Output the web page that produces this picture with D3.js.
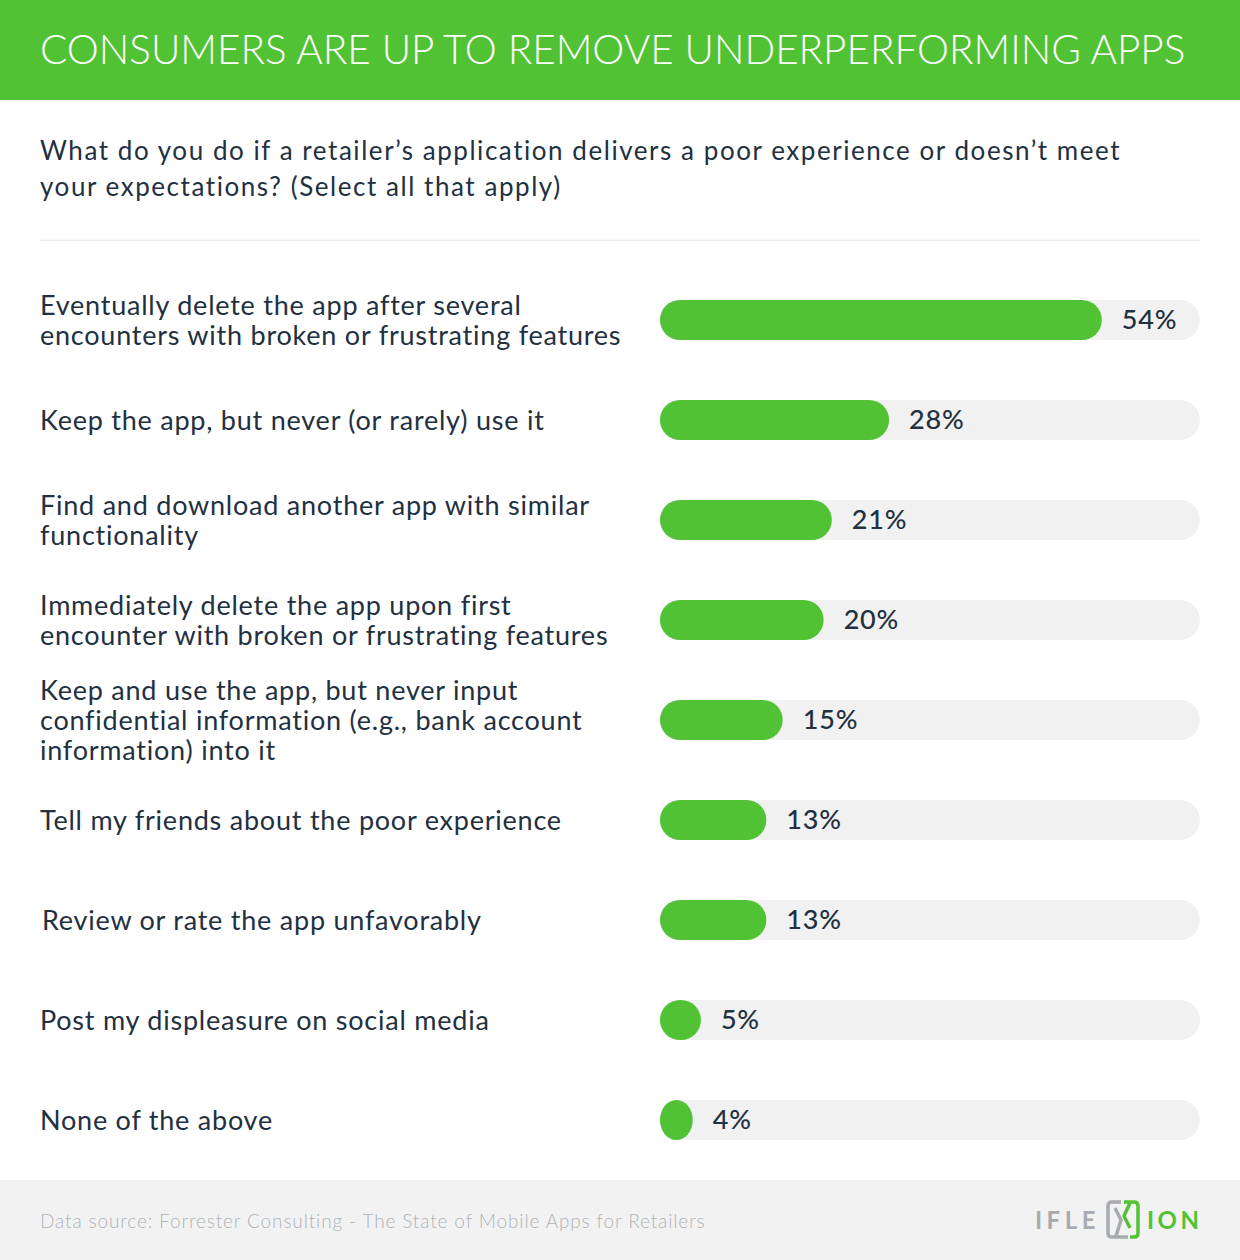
<!DOCTYPE html>
<html><head><meta charset="utf-8">
<script src="https://cdn.jsdelivr.net/npm/d3@7/dist/d3.min.js"></script>
<style>
html,body{margin:0;padding:0;background:#fff;}
svg{display:block;font-family:Lato,"Noto Sans",sans-serif;}
</style></head>
<body>
<svg id="chart" width="1240" height="1260"></svg>
<script>
const title = "CONSUMERS ARE UP TO REMOVE UNDERPERFORMING APPS";
const subtitleLines = ["What do you do if a retailer\u2019s application delivers a poor experience or doesn\u2019t meet", "your expectations? (Select all that apply)"];
const categories = [
  ["Eventually delete the app after several", "encounters with broken or frustrating features"],
  ["Keep the app, but never (or rarely) use it"],
  ["Find and download another app with similar", "functionality"],
  ["Immediately delete the app upon first", "encounter with broken or frustrating features"],
  ["Keep and use the app, but never input", "confidential information (e.g., bank account", "information) into it"],
  ["Tell my friends about the poor experience"],
  ["Review or rate the app unfavorably"],
  ["Post my displeasure on social media"],
  ["None of the above"]
];
const values = [54, 28, 21, 20, 15, 13, 13, 5, 4];
const sourceText = "Data source: Forrester Consulting - The State of Mobile Apps for Retailers";

const GREEN = "#52c235", DARK = "#22303f", TRACK = "#f1f1f1";
const svg = d3.select("#chart");

function spacingFor(node, target){
  const w = node.getComputedTextLength();
  const n = node.textContent.length;
  return (target - w) / Math.max(1, n - 1);
}

// header
svg.append("rect").attr("x",0).attr("y",0).attr("width",1240).attr("height",100).attr("fill",GREEN);
const t = svg.append("text").attr("x",40).attr("y",64).attr("fill","#fff")
  .attr("font-size",40).attr("font-weight",300).text(title);
const tw = t.node().getComputedTextLength();
t.attr("font-size", 40*1146/tw);

// subtitle
const sub = svg.append("text").attr("x",40).attr("y",160).attr("fill",DARK).attr("font-size",26).attr("font-weight",400);
sub.selectAll("tspan").data(subtitleLines).join("tspan").attr("x",40).attr("dy",(d,i)=>i?36:0).text(d=>d);
{
  const probe = svg.append("text").attr("font-size",26).attr("font-weight",400).text(subtitleLines[0]);
  const ls = spacingFor(probe.node(), 1080); probe.remove();
  sub.attr("letter-spacing", ls);
}
svg.append("line").attr("x1",40).attr("x2",1200).attr("y1",240.5).attr("y2",240.5).attr("stroke","#ececec").attr("stroke-width",1.5);

// scales
const x = d3.scaleLinear().domain([0,66]).range([660,1200]);
const bh = 40;
const cy = i => 320 + i*100;
const bw = d => Math.max(x(d)-x(0),32);

const rows = svg.append("g").selectAll("g").data(values).join("g");
rows.append("rect").attr("x",x(0)).attr("y",(d,i)=>cy(i)-bh/2).attr("width",x(66)-x(0)).attr("height",bh)
  .attr("rx",20).attr("ry",20).attr("fill",TRACK);
rows.append("rect").attr("x",x(0)).attr("y",(d,i)=>cy(i)-bh/2)
  .attr("width",bw).attr("height",bh)
  .attr("rx",d=>Math.min(20,bw(d)/2)).attr("ry",20).attr("fill",GREEN);
rows.append("text").attr("x",d=>x(0)+bw(d)+20).attr("y",(d,i)=>cy(i)+9)
  .attr("fill",DARK).attr("font-size",27).attr("font-weight",500).attr("letter-spacing",0.8).text(d=>d+"%");

// category labels
let labelLs;
{
  const probe = svg.append("text").attr("font-size",27).attr("font-weight",400).text(categories[0][1]);
  labelLs = spacingFor(probe.node(), 581); probe.remove();
}
svg.append("g").selectAll("text").data(categories).join("text")
  .attr("x",(d,i)=>i===6?42:40)
  .attr("fill",DARK).attr("font-size",27).attr("font-weight",400).attr("letter-spacing",labelLs)
  .each(function(lines,i){
    const n = lines.length;
    d3.select(this).selectAll("tspan").data(lines).join("tspan")
      .attr("x",i===6?42:40).attr("y",(l,j)=>cy(i) + (j-(n-1)/2)*30 + 10).text(l=>l);
  });

// footer
svg.append("rect").attr("x",0).attr("y",1180).attr("width",1240).attr("height",80).attr("fill","#f2f2f2");
const src = svg.append("text").attr("x",40).attr("y",1228).attr("fill","#aeb3b8").attr("font-size",19).attr("font-weight",300).text(sourceText);
src.attr("letter-spacing", spacingFor(src.node(), 665));

// logo
const logo = svg.append("g");
logo.append("text").attr("x",1035).attr("y",1229).attr("fill","#a7abaf").attr("font-size",24).attr("font-weight",700)
  .attr("letter-spacing",4.5).text("IFLE");
logo.append("path").attr("d","M1121,1202 L1112,1202 Q1108,1202 1108,1206 L1108,1233 Q1108,1237 1112,1237 L1128,1237 M1115,1208 L1121,1220 L1116,1236")
  .attr("fill","none").attr("stroke","#a7abaf").attr("stroke-width",3.5).attr("stroke-linejoin","round");
logo.append("path").attr("d","M1124,1202 L1134,1202 Q1138,1202 1138,1206 L1138,1233 Q1138,1237 1134,1237 L1130,1237 M1130,1203 L1124,1216 L1130,1228")
  .attr("fill","none").attr("stroke",GREEN).attr("stroke-width",3.5).attr("stroke-linejoin","round");
logo.append("text").attr("x",1147).attr("y",1229).attr("fill",GREEN).attr("font-size",24).attr("font-weight",700)
  .attr("letter-spacing",3.5).text("ION");
</script>
</body></html>
